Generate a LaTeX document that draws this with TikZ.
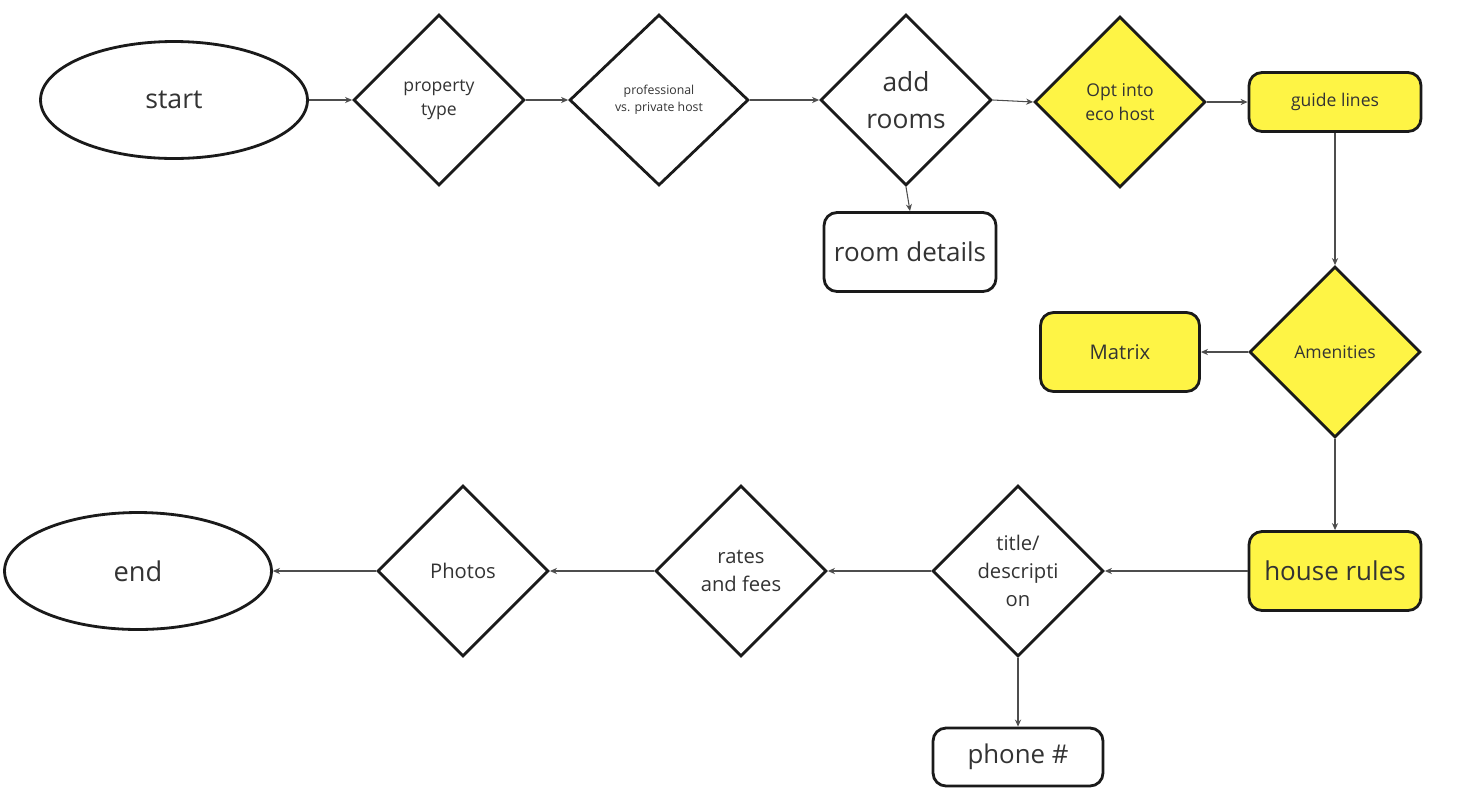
\documentclass[tikz,border=0pt]{standalone}
\usepackage{fontspec}
\setmainfont{Open Sans}
\usetikzlibrary{shapes.geometric,arrows.meta}

\definecolor{stickyyellow}{HTML}{FEF445}
\definecolor{edgeblack}{HTML}{1A1A1A}
\definecolor{txtgray}{HTML}{333333}
\definecolor{linegray}{HTML}{4D4D4D}

\tikzset{
  box/.style={draw=edgeblack, line width=1.6pt, rounded corners=0.26cm, fill=white,
    text=txtgray, inner sep=0pt, align=center},
  choice/.style={diamond, aspect=1, draw=edgeblack, line width=1.6pt, fill=white,
    text=txtgray, inner sep=0pt, minimum width=3.42cm, minimum height=3.42cm, align=center},
  terminal/.style={ellipse, draw=edgeblack, line width=1.6pt, fill=white,
    text=txtgray, inner sep=0pt, minimum width=5.34cm, minimum height=2.34cm},
  eco/.style={fill=stickyyellow},
  flow/.style={draw=linegray, line width=0.6pt, -{Stealth[length=4pt,width=3.5pt]}}
}

\begin{document}
\begin{tikzpicture}[x=0.02cm, y=-0.02cm]
  \useasboundingbox (0,0) rectangle (1469,792);

  % top row
  \node[terminal, font=\fontsize{15.2}{17}\selectfont] (start) at (174,100) {start};
  \node[choice, font=\fontsize{10}{13.5}\selectfont] (ptype) at (439,100) {property\\type};
  \node[choice, minimum width=3.58cm, font=\fontsize{7}{9.5}\selectfont] (hosttype) at (659,100) {professional\\vs. private host};
  \node[choice, font=\fontsize{15}{21}\selectfont] (addrooms) at (906,100) {add\\rooms};
  \node[choice, eco, font=\fontsize{10}{13.5}\selectfont] (ecohost) at (1120,102) {Opt into\\eco host};
  \node[box, eco, minimum width=3.44cm, minimum height=1.18cm, font=\fontsize{10}{12}\selectfont] (guide) at (1335,102) {guide lines};
  \node[box, minimum width=3.44cm, minimum height=1.58cm, font=\fontsize{14.8}{17}\selectfont] (rooms) at (910,252) {room details};

  % right column
  \node[choice, eco, font=\fontsize{10}{12}\selectfont] (amen) at (1335,352) {Amenities};
  \node[box, eco, minimum width=3.18cm, minimum height=1.58cm, font=\fontsize{11.5}{13}\selectfont] (matrix) at (1120,352) {Matrix};
  \node[box, eco, minimum width=3.44cm, minimum height=1.58cm, font=\fontsize{14.8}{17}\selectfont] (rules) at (1335,571) {house rules};

  % bottom row
  \node[choice, font=\fontsize{11.5}{16}\selectfont] (title) at (1018,571) {title/\\descripti\\on};
  \node[choice, font=\fontsize{11.5}{15.5}\selectfont] (rates) at (741,571) {rates\\and fees};
  \node[choice, font=\fontsize{11.5}{13}\selectfont] (photos) at (463,571) {Photos};
  \node[terminal, font=\fontsize{15.5}{17}\selectfont] (finish) at (138,571) {end};
  \node[box, minimum width=3.4cm, minimum height=1.16cm, font=\fontsize{14.7}{17}\selectfont] (phone) at (1018,757) {phone \#};

  % connectors
  \draw[flow] (start) -- (ptype);
  \draw[flow] (ptype) -- (hosttype);
  \draw[flow] (hosttype) -- (addrooms);
  \draw[flow] (addrooms.east) -- (ecohost.west);
  \draw[flow] (ecohost) -- (guide);
  \draw[flow] (addrooms.south) -- (rooms.north);
  \draw[flow] (guide) -- (amen);
  \draw[flow] (amen) -- (matrix);
  \draw[flow] (amen) -- (rules);
  \draw[flow] (rules) -- (title);
  \draw[flow] (title) -- (rates);
  \draw[flow] (rates) -- (photos);
  \draw[flow] (photos) -- (finish);
  \draw[flow] (title) -- (phone);
\end{tikzpicture}
\end{document}
